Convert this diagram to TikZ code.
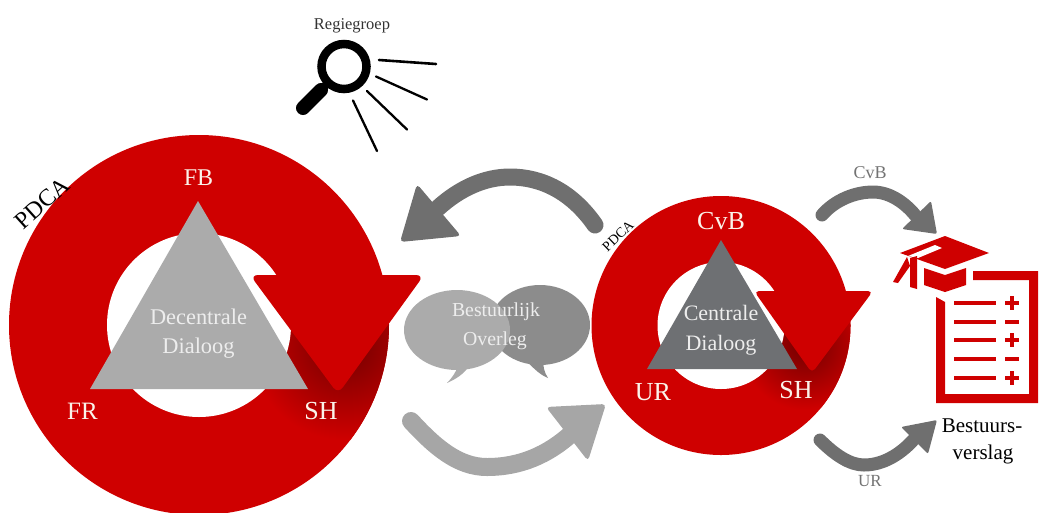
\documentclass[tikz,border=0pt]{standalone}
\usepackage{fontspec}
\setmainfont{Liberation Serif}
\definecolor{ringred}{HTML}{CF0000}
\definecolor{ringdark}{HTML}{700000}
\definecolor{triL}{HTML}{ABABAB}
\definecolor{triR}{HTML}{6E7073}
\definecolor{arrowD}{HTML}{6F6F6F}
\definecolor{arrowL}{HTML}{A6A6A6}
\definecolor{labelcream}{HTML}{FBF3EA}
\tikzset{
  lbl/.style={inner sep=0pt,text=labelcream,font=\fontsize{#1}{#1}\selectfont},
  darklbl/.style={inner sep=0pt,text=black,font=\fontsize{#1}{#1}\selectfont},
  greylbl/.style={inner sep=0pt,text=black!55,font=\fontsize{#1}{#1}\selectfont},
  softlbl/.style={inner sep=0pt,text=white!93!black,font=\fontsize{#1}{#1}\selectfont},
  tail/.style={line cap=round,line width=#1},
  ray/.style={line width=#1,black,line cap=round},
  docline/.style={line width=4.5pt,ringred},
}
\begin{document}
\begin{tikzpicture}[x=1pt,y=-1pt]
\useasboundingbox (0,0) rectangle (1046,512);
\clip (0,0) rectangle (1046,512);

% ---------- left ring
\coordinate (LC) at (199,325);
\fill[ringred] (LC) circle (190);
\begin{scope}
  \clip (LC) circle (190);
  \clip (250,285) rectangle (430,470);
  \shade[inner color=ringdark,outer color=ringred] (345,345) circle (95);
\end{scope}
\fill[white] (LC) circle (92);
\fill[triL] (198,201) -- (308,389) -- (90,389) -- cycle;
\fill[ringred,rounded corners=8pt] (250,275) -- (424,275) -- (338,394) -- cycle;

% ---------- right ring
\coordinate (RC) at (721,325.5);
\fill[ringred] (RC) circle (129.5);
\begin{scope}
  \clip (RC) circle (129.5);
  \clip (750,298) rectangle (880,430);
  \shade[inner color=ringdark,outer color=ringred] (805,345) circle (65);
\end{scope}
\fill[white] (RC) circle (63.5);
\fill[triR] (721,240) -- (797,369) -- (647,369) -- cycle;
\fill[ringred,rounded corners=5pt] (754,291) -- (873,291) -- (812,373) -- cycle;

% ---------- ring labels
\node[lbl=24] (fb) at (198.5,178) {FB};
\node[lbl=25] (fr) at (82.5,411) {FR};
\node[lbl=26] (shl) at (321,411) {SH};
\node[softlbl=22.4] (dec1) at (198.5,317) {Decentrale};
\node[softlbl=22.4] (dec2) at (198.5,348) {Dialoog};
\node[lbl=26] (cvb) at (721,221) {CvB};
\node[lbl=26] (ur) at (653,392) {UR};
\node[lbl=26] (shr) at (796,390) {SH};
\node[softlbl=22] (cen1) at (721,313) {Centrale};
\node[softlbl=22] (cen2) at (721,345) {Dialoog};
\node[darklbl=24,rotate=42] (pdcal) at (42,203) {PDCA};
\node[darklbl=14,rotate=44] (pdcar) at (618,236) {PDCA};

% ---------- magnifier
\coordinate (MC) at (344,66.5);
\draw[line width=8.5pt,black] (MC) circle (22.5);
\draw[line width=8pt,black] (328,83) -- (318,93);
\draw[line width=14pt,black,line cap=round] (321,90) -- (303,108);
\coordinate (r1a) at (379,60); \coordinate (r1b) at (436,64);
\coordinate (r2a) at (376,76.5); \coordinate (r2b) at (427,99.5);
\coordinate (r3a) at (367,91); \coordinate (r3b) at (407,129.5);
\coordinate (r4a) at (353,100.5); \coordinate (r4b) at (377,151);
\draw[ray=2.6pt] (r1a) -- (r1b);
\draw[ray=2.3pt] (r2a) -- (r2b);
\draw[ray=2.3pt] (r3a) -- (r3b);
\draw[ray=2.3pt] (r4a) -- (r4b);
\node[inner sep=0pt,text=black!80,font=\fontsize{16.5}{16.5}\selectfont] (reg) at (352,26) {Regiegroep};

% ---------- big curved arrows
\coordinate (t1) at (595,225); \coordinate (t2) at (510,177); \coordinate (t3) at (438,208);
\draw[arrowD,tail=17pt] (t1) .. controls (572,192) and (542,177) .. (t2) .. controls (485,177) and (460,188) .. (t3);
\fill[arrowD,rounded corners=4pt] (417,184) -- (461,236) -- (400,242) -- cycle;
\coordinate (b1) at (411,421); \coordinate (b2) at (487,467); \coordinate (b3) at (572,433);
\draw[arrowL,tail=18pt] (b1) .. controls (435,447) and (458,467) .. (b2) .. controls (520,467) and (548,455) .. (b3);
\fill[arrowL,rounded corners=4pt] (546,407) -- (606,404) -- (588,461) -- cycle;

% ---------- speech bubbles
\fill[black!45] (540,325) ellipse (50 and 40);
\fill[black!45] (525,360) .. controls (532,366) and (538,374) .. (548,378) .. controls (544,372) and (543,366) .. (543,358) -- cycle;
\fill[black!33] (457,330) ellipse (53 and 40);
\fill[black!33] (458,366) .. controls (456,372) and (452,378) .. (447,383) .. controls (456,379) and (464,374) .. (469,366) -- cycle;
\node[softlbl=19.8] (bo1) at (496,312) {Bestuurlijk};
\node[softlbl=19.8] (bo2) at (495,341) {Overleg};

% ---------- small arrows
\coordinate (s1) at (822,215); \coordinate (s2) at (873,192); \coordinate (s3) at (915,215);
\draw[arrowD,tail=13pt] (s1) .. controls (835,200) and (855,192) .. (s2) .. controls (890,192) and (905,203) .. (s3);
\fill[arrowD,rounded corners=2pt] (931,201) -- (937,234) -- (902,229) -- cycle;
\coordinate (u1) at (820,440); \coordinate (u2) at (864,465); \coordinate (u3) at (915,438);
\draw[arrowD,tail=13pt] (u1) .. controls (835,455) and (850,465) .. (u2) .. controls (885,465) and (903,452) .. (u3);
\fill[arrowD,rounded corners=2pt] (901,427) -- (937,420) -- (928,454) -- cycle;
\node[greylbl=18] (lcvb) at (870,173) {CvB};
\node[greylbl=17] (lur) at (870,481) {UR};

% ---------- graduation cap
\fill[ringred] (900,253) -- (945,236) -- (989,253) -- (945,269) -- cycle;
\fill[white] (908,256) -- (935,245) -- (942,248) -- (918,258) -- cycle;
\fill[ringred] (907,257) -- (893,282) -- (898,283) -- (910,266) -- cycle;
\fill[ringred] (910,258) -- (917,256) -- (917,289) -- (910,287) -- cycle;
\fill[ringred] (924,268) -- (945,275) -- (966,268) -- (966,285) -- (945,292) -- (924,285) -- cycle;

% ---------- report sheet
\fill[ringred] (973,271) -- (1038,271) -- (1038,403) -- (936,403) -- (936,297) -- (945,302)
   -- (945,394) -- (1029,394) -- (1029,280) -- (973,280) -- cycle;
\foreach \yy in {303,322,340,359,378} \draw[docline] (954,\yy) -- (996,\yy);
\foreach \yy in {303,322,340,359,378} \draw[docline] (1005,\yy) -- (1019,\yy);
\foreach \yy in {303,340,378} \draw[docline] (1012,\yy-7) -- (1012,\yy+7);
\node[darklbl=21] (rep1) at (982,426) {Bestuurs-};
\node[darklbl=21] (rep2) at (983,454) {verslag};
\end{tikzpicture}
\end{document}
